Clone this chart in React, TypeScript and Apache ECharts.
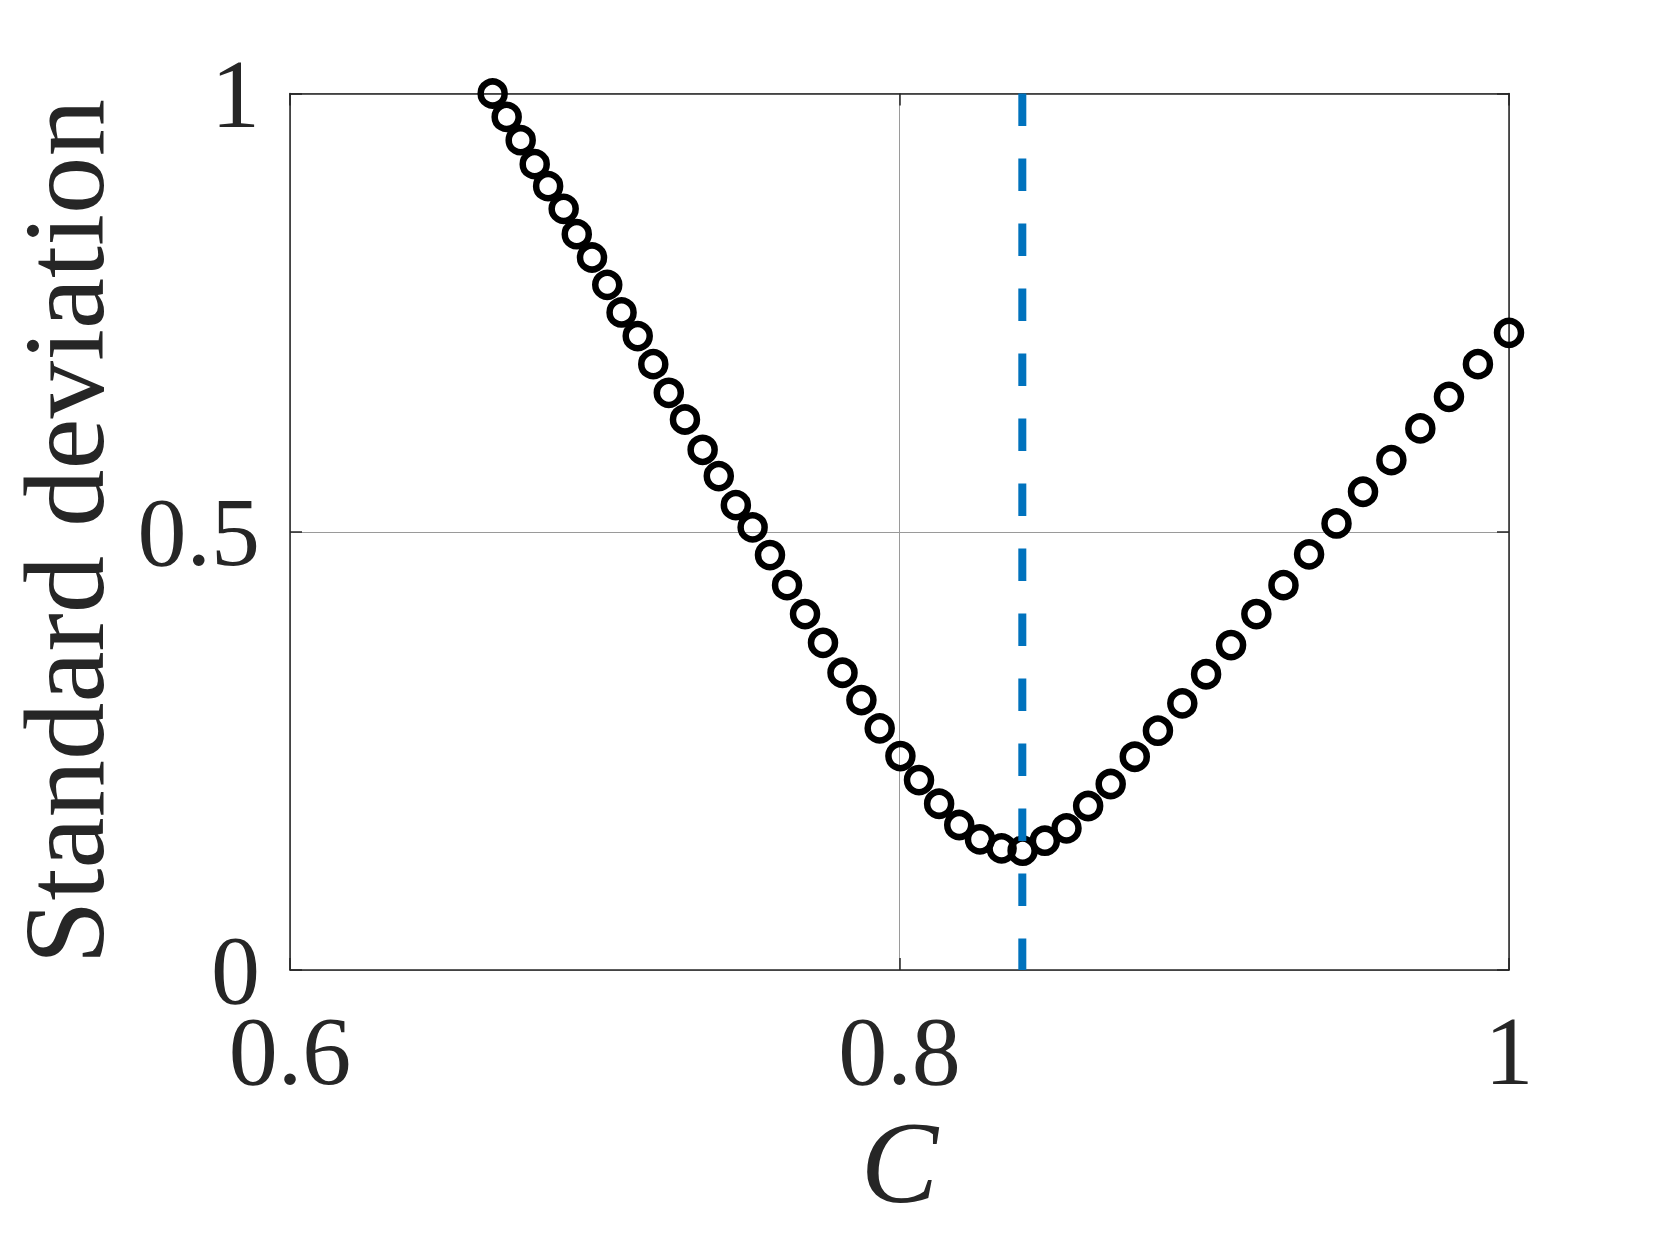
import React, { useEffect, useRef } from "react";
import * as echarts from "echarts";

// C values (x)
const cValues: number[] = [
  0.6665, 0.6711, 0.6757, 0.6803, 0.6847, 0.6898, 0.6941, 0.6991, 0.7041, 0.7088,
  0.7141, 0.7192, 0.7243, 0.7296, 0.7354, 0.7407, 0.7463, 0.7518, 0.7575, 0.7631,
  0.769, 0.7749, 0.7813, 0.7875, 0.7935, 0.8003, 0.8064, 0.813, 0.8196, 0.8264,
  0.8335, 0.8404, 0.8477, 0.8548, 0.8619, 0.8693, 0.8772, 0.8848, 0.8928, 0.9006,
  0.9088, 0.9171, 0.926, 0.9344, 0.9434, 0.9521, 0.9614, 0.9709, 0.9803, 0.9898,
  1.0,
];

// Standard deviation (y)
const stdValues: number[] = [
  1.0, 0.9733, 0.9467, 0.9194, 0.8943, 0.8684, 0.8395, 0.8129, 0.7817, 0.7502,
  0.7232, 0.6912, 0.6585, 0.6281, 0.5935, 0.5635, 0.5304, 0.505, 0.4734, 0.4391,
  0.4061, 0.3733, 0.3391, 0.308, 0.2757, 0.2441, 0.2167, 0.1897, 0.1654, 0.1491,
  0.1388, 0.1361, 0.1475, 0.1616, 0.1871, 0.2122, 0.2433, 0.273, 0.3042, 0.3374,
  0.3707, 0.4061, 0.4391, 0.4742, 0.5095, 0.5456, 0.5817, 0.6179, 0.6539, 0.6912,
  0.7269,
];

// Vertical dashed reference line position
const criticalC = 0.8403;
const yRange: number[] = [1, 0];

const xTicks = { min: 0.6, max: 1, interval: 0.2 };
const yTicks = { min: 0, max: 1, interval: 0.5 };

const FONT = "'Liberation Serif', 'Times New Roman', serif";
const TEXT = "#262626";

export default function App() {
  const ref = useRef<HTMLDivElement>(null);

  useEffect(() => {
    if (!ref.current) return;
    const chart = echarts.init(ref.current, undefined, { renderer: "svg" });
    const points = cValues.map((c, i) => [c, stdValues[i]]);
    const dashed = yRange.map((y) => [criticalC, y]);

    const baseAxisLine = { show: true, onZero: false, lineStyle: { color: TEXT, width: 1.5 } };
    const tickIn = { show: true, inside: true, length: 12, lineStyle: { color: TEXT, width: 1.5 } };

    chart.setOption({
      animation: false,
      backgroundColor: "#ffffff",
      grid: {
        left: 290,
        top: 93.5,
        width: 1219,
        height: 876.5,
        containLabel: false,
        outerBoundsMode: "none",
      },
      xAxis: [
        {
          type: "value",
          position: "bottom",
          min: xTicks.min,
          max: xTicks.max,
          interval: xTicks.interval,
          name: "C",
          nameLocation: "middle",
          nameGap: 134,
          nameTextStyle: { fontFamily: FONT, fontSize: 116, fontStyle: "italic", color: TEXT },
          axisLine: baseAxisLine,
          axisTick: tickIn,
          axisLabel: {
            fontFamily: FONT,
            fontSize: 98,
            lineHeight: 72,
            color: TEXT,
            margin: 45,
            formatter: (v: number) => String(Math.round(v * 10) / 10),
          },
          splitLine: { show: true, lineStyle: { color: "#9a9a9a", width: 1 } },
        },
        {
          type: "value",
          position: "top",
          min: xTicks.min,
          max: xTicks.max,
          interval: xTicks.interval,
          axisLine: baseAxisLine,
          axisTick: tickIn,
          axisLabel: { show: false },
          splitLine: { show: false },
        },
      ],
      yAxis: [
        {
          type: "value",
          position: "left",
          min: yTicks.min,
          max: yTicks.max,
          interval: yTicks.interval,
          name: "Standard deviation",
          nameLocation: "middle",
          nameGap: 176,
          nameTextStyle: { fontFamily: FONT, fontSize: 115, lineHeight: 100, color: TEXT },
          axisLine: baseAxisLine,
          axisTick: tickIn,
          axisLabel: {
            fontFamily: FONT,
            fontSize: 98,
            lineHeight: 72,
            color: TEXT,
            margin: 30,
            formatter: (v: number) => String(Math.round(v * 10) / 10),
          },
          splitLine: { show: true, lineStyle: { color: "#9a9a9a", width: 1 } },
        },
        {
          type: "value",
          position: "right",
          min: yTicks.min,
          max: yTicks.max,
          interval: yTicks.interval,
          axisLine: baseAxisLine,
          axisTick: tickIn,
          axisLabel: { show: false },
          splitLine: { show: false },
        },
      ],
      series: [
        {
          type: "scatter",
          data: points,
          symbol: "circle",
          symbolSize: 24,
          itemStyle: {
            color: "rgba(255,255,255,0)",
            borderColor: "#000000",
            borderWidth: 6.5,
            opacity: 1,
          },
          z: 2,
        },
        {
          type: "line",
          data: dashed,
          symbol: "none",
          lineStyle: { color: "#0072BD", width: 8, type: [32.5, 32.5] },
          z: 3,
        },
      ],
    });
    return () => chart.dispose();
  }, []);

  return (
    <div
      ref={ref}
      style={{ position: "fixed", left: 0, top: 0, width: 1667, height: 1250, background: "#fff" }}
    />
  );
}
